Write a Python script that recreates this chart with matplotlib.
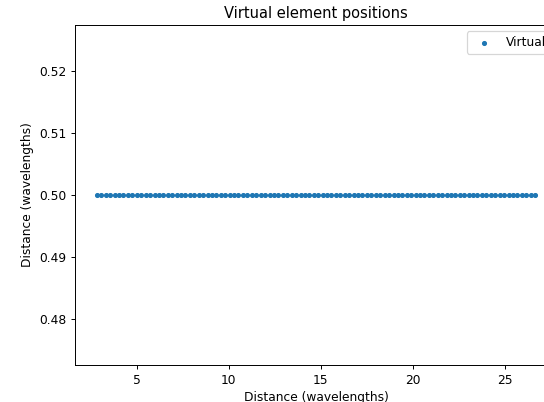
import matplotlib
matplotlib.use("Agg")
import matplotlib.pyplot as plt

x_positions = [
    2.83, 3.07, 3.31, 3.55, 3.79, 4.03, 4.27, 4.51, 4.75, 4.99,
    5.23, 5.47, 5.72, 5.96, 6.20, 6.44, 6.68, 6.92, 7.16, 7.40,
    7.64, 7.88, 8.12, 8.36, 8.60, 8.84, 9.08, 9.32, 9.56, 9.80,
    10.04, 10.28, 10.52, 10.76, 11.00, 11.24, 11.48, 11.72, 11.97, 12.21,
    12.45, 12.69, 12.93, 13.17, 13.41, 13.65, 13.89, 14.13, 14.37, 14.61,
    14.85, 15.09, 15.33, 15.57, 15.81, 16.05, 16.29, 16.53, 16.77, 17.01,
    17.25, 17.49, 17.74, 17.98, 18.22, 18.46, 18.70, 18.94, 19.18, 19.42,
    19.66, 19.90, 20.14, 20.38, 20.62, 20.86, 21.10, 21.34, 21.58, 21.82,
    22.06, 22.30, 22.54, 22.78, 23.02, 23.26, 23.50, 23.75, 23.99, 24.23,
    24.47, 24.71, 24.95, 25.19, 25.43, 25.67, 25.91, 26.15, 26.39, 26.63,
]
y_value = 0.5
y_positions = [y_value] * len(x_positions)

title = "Virtual element positions"
xlabel = "Distance (wavelengths)"
ylabel = "Distance (wavelengths)"
legend_label = "Virtual"

DPI = 88
fig = plt.figure(figsize=(544 / DPI, 402 / DPI), dpi=DPI)
ax = fig.add_axes([75 / 544, 37 / 402, 482 / 544, 340 / 402])
ax.scatter(x_positions, y_positions, s=10, color="#1f77b4", label=legend_label)
ax.set_title(title)
ax.set_xlabel(xlabel)
ax.set_ylabel(ylabel)
ax.legend(loc="upper right")
fig.savefig("out.png", dpi=DPI)
